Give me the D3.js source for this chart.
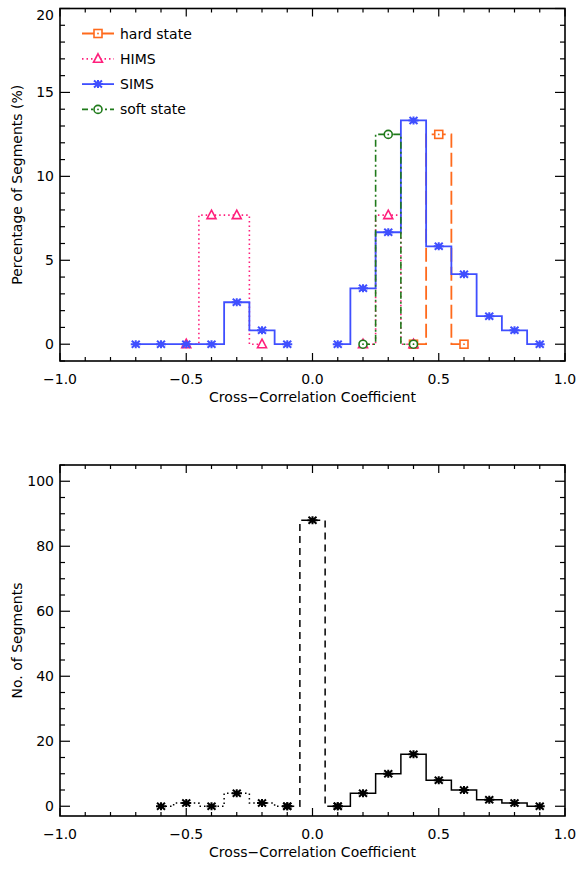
<!DOCTYPE html>
<html>
<head>
<meta charset="utf-8">
<script src="https://cdn.jsdelivr.net/npm/d3@7/dist/d3.min.js"></script>
<style>
  body { margin: 0; background: #fff; }
  svg { display: block; font-family: "DejaVu Sans", sans-serif; }
</style>
</head>
<body>
<svg id="chart" width="579" height="869"></svg>
<script>
// top panel: percentage of segments per state
const hardX = [0.4, 0.5, 0.6];
const hardY = [0, 12.5, 0];
const himsLeftX = [-0.5, -0.4, -0.3, -0.2];
const himsLeftY = [0, 7.69, 7.69, 0];
const himsRightX = [0.2, 0.3, 0.4];
const himsRightY = [0, 7.69, 0];
const simsLeftX = [-0.7, -0.6, -0.5, -0.4, -0.3, -0.2, -0.1];
const simsLeftY = [0, 0, 0, 0, 2.5, 0.83, 0];
const simsRightX = [0.1, 0.2, 0.3, 0.4, 0.5, 0.6, 0.7, 0.8, 0.9];
const simsRightY = [0, 3.33, 6.67, 13.33, 5.83, 4.17, 1.67, 0.83, 0];
const softX = [0.2, 0.3, 0.4];
const softY = [0, 12.5, 0];

// bottom panel: number of segments
const negX = [-0.6, -0.5, -0.4, -0.3, -0.2, -0.1];
const negY = [0, 1, 0, 4, 1, 0];
const zeroX = [-0.1, 0.0, 0.1];
const zeroY = [0, 88, 0];
const posX = [0.1, 0.2, 0.3, 0.4, 0.5, 0.6, 0.7, 0.8, 0.9];
const posY = [0, 4, 10, 16, 8, 5, 2, 1, 0];

const xTicks = [-1.0, -0.5, 0.0, 0.5, 1.0];
const topYTicks = [0, 5, 10, 15, 20];
const botYTicks = [0, 20, 40, 60, 80, 100];
const legendNames = ["hard state", "HIMS", "SIMS", "soft state"];

const colors = { hard: "#ff6a1c", hims: "#ff1f7c", sims: "#3f4fff", soft: "#1f7a1a" };

const svg = d3.select("#chart");

const x = d3.scaleLinear().domain([-1, 1]).range([60, 565]);
const yTop = d3.scaleLinear().domain([-1, 20]).range([361, 8.5]);
const yBot = d3.scaleLinear().domain([-3, 105]).range([816, 465]);

function drawFrame(y, majors, minorStep, yTitle, topShift) {
    const g = svg.append("g");
    const [y0, y1] = y.range();
    const [x0, x1] = x.range();
    const minorX = d3.range(-1, 1.0001, 0.1).map(v => +v.toFixed(2));
    const minorY = d3.range(Math.ceil(y.domain()[0] / minorStep) * minorStep, y.domain()[1] + 0.001, minorStep);

    // x ticks, pointing inwards on bottom and top
    minorX.forEach(v => {
        const major = xTicks.some(t => Math.abs(t - v) < 1e-6);
        const len = major ? 8 : 4;
        g.append("line").attr("x1", x(v)).attr("x2", x(v)).attr("y1", y0).attr("y2", y0 - len)
            .attr("stroke", "#000").attr("stroke-width", 1.2);
        g.append("line").attr("x1", x(v)).attr("x2", x(v)).attr("y1", y1).attr("y2", y1 + len)
            .attr("stroke", "#000").attr("stroke-width", 1.2);
    });
    minorY.forEach(v => {
        const major = majors.some(t => Math.abs(t - v) < 1e-6);
        const len = major ? 10 : 5;
        g.append("line").attr("x1", x0).attr("x2", x0 + len).attr("y1", y(v)).attr("y2", y(v))
            .attr("stroke", "#000").attr("stroke-width", 1.2);
        g.append("line").attr("x1", x1).attr("x2", x1 - len).attr("y1", y(v)).attr("y2", y(v))
            .attr("stroke", "#000").attr("stroke-width", 1.2);
    });

    g.append("rect").attr("x", x0).attr("y", y1).attr("width", x1 - x0).attr("height", y0 - y1)
        .attr("fill", "none").attr("stroke", "#000").attr("stroke-width", 1.6);

    g.selectAll(".xl").data(xTicks).enter().append("text")
        .attr("x", d => x(d)).attr("y", y0 + 23)
        .attr("text-anchor", "middle").attr("font-size", 14)
        .text(d => d3.format(".1f")(d).replace("-", "\u2212"));

    g.selectAll(".yl").data(majors).enter().append("text")
        .attr("x", 54).attr("y", (d, i) => y(d) + 5 + (i === majors.length - 1 ? topShift : 0))
        .attr("text-anchor", "end").attr("font-size", 14)
        .text(d => d);

    g.append("text").attr("x", (x0 + x1) / 2).attr("y", y0 + 41)
        .attr("text-anchor", "middle").attr("font-size", 14)
        .text("Cross\u2212Correlation Coefficient");

    g.append("text")
        .attr("transform", `translate(22,${(y0 + y1) / 2}) rotate(-90)`)
        .attr("text-anchor", "middle").attr("font-size", 14)
        .text(yTitle);
}

drawFrame(yTop, topYTicks, 1, "Percentage of Segments (%)", 6);
drawFrame(yBot, botYTicks, 5, "No. of Segments", 0);

// marker shapes
function marker(g, kind, cx, cy, color) {
    if (kind === "star") {
        g.append("path")
            .attr("d", `M${cx - 5},${cy}H${cx + 5}M${cx},${cy - 4}V${cy + 4}` +
                `M${cx - 4},${cy - 3.5}L${cx + 4},${cy + 3.5}M${cx - 4},${cy + 3.5}L${cx + 4},${cy - 3.5}`)
            .attr("stroke", color).attr("stroke-width", 2).attr("fill", "none");
    } else if (kind === "square") {
        g.append("rect").attr("x", cx - 4).attr("y", cy - 4).attr("width", 8).attr("height", 8)
            .attr("fill", "#fff").attr("stroke", color).attr("stroke-width", 1.6);
        g.append("circle").attr("cx", cx).attr("cy", cy).attr("r", 0.9).attr("fill", color);
    } else if (kind === "triangle") {
        g.append("path").attr("d", `M${cx},${cy - 5}L${cx + 4.5},${cy + 3.5}L${cx - 4.5},${cy + 3.5}Z`)
            .attr("fill", "#fff").attr("stroke", color).attr("stroke-width", 1.6);
    } else if (kind === "circle") {
        g.append("circle").attr("cx", cx).attr("cy", cy).attr("r", 4)
            .attr("fill", "#fff").attr("stroke", color).attr("stroke-width", 1.6);
        g.append("circle").attr("cx", cx).attr("cy", cy).attr("r", 0.9).attr("fill", color);
    }
}

function histo(y, xs, ys, color, dash, kind, width) {
    const g = svg.append("g");
    const line = d3.line().x(d => x(d[0])).y(d => y(d[1])).curve(d3.curveStep);
    g.append("path").datum(xs.map((v, i) => [v, ys[i]]))
        .attr("d", line).attr("fill", "none")
        .attr("stroke", color).attr("stroke-width", width)
        .attr("stroke-dasharray", dash);
    xs.forEach((v, i) => marker(g, kind, x(v), y(ys[i]), color));
}

// top panel series, in drawing order
histo(yTop, hardX, hardY, colors.hard, "14,5", "square", 1.8);
histo(yTop, himsLeftX, himsLeftY, colors.hims, "1.5,3", "triangle", 1.6);
histo(yTop, himsRightX, himsRightY, colors.hims, "1.5,3", "triangle", 1.6);
histo(yTop, simsLeftX, simsLeftY, colors.sims, null, "star", 1.8);
histo(yTop, simsRightX, simsRightY, colors.sims, null, "star", 1.8);
histo(yTop, softX, softY, colors.soft, "7,3,2,3", "circle", 1.6);

// legend
const legend = [
    { name: legendNames[0], color: colors.hard, dash: "14,5", kind: "square" },
    { name: legendNames[1], color: colors.hims, dash: "1.5,3", kind: "triangle" },
    { name: legendNames[2], color: colors.sims, dash: null, kind: "star" },
    { name: legendNames[3], color: colors.soft, dash: "6,3,2,3", kind: "circle" }
];
legend.forEach((d, i) => {
    const g = svg.append("g");
    const ly = 33.5 + i * 25.3;
    g.append("line").attr("x1", 82).attr("x2", 114).attr("y1", ly).attr("y2", ly)
        .attr("stroke", d.color).attr("stroke-width", 1.8).attr("stroke-dasharray", d.dash);
    marker(g, d.kind, 98, ly, d.color);
    g.append("text").attr("x", 120).attr("y", ly + 5).attr("font-size", 14).text(d.name);
});

// bottom panel series
histo(yBot, negX, negY, "#000", "1.5,3", "star", 1.5);
histo(yBot, zeroX, zeroY, "#000", "7,5", "star", 1.5);
histo(yBot, posX, posY, "#000", null, "star", 1.5);
</script>
</body>
</html>
